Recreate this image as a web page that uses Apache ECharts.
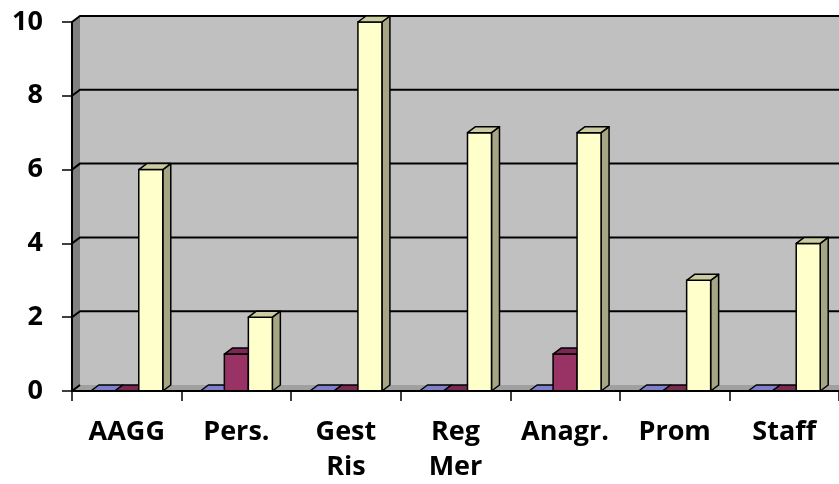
<!DOCTYPE html>
<html>
<head>
<meta charset="utf-8">
<script src="https://cdn.jsdelivr.net/npm/echarts@6/dist/echarts.min.js"></script>
<style>
html,body{margin:0;padding:0;background:#fff;}
#chart{width:839px;height:484px;}
</style>
</head>
<body>
<div id="chart"></div>
<script>
const categories = ['AAGG', 'Pers.', 'Gest\nRis', 'Reg\nMer', 'Anagr.', 'Prom', 'Staff'];
const seriesBlue = [0, 0, 0, 0, 0, 0, 0];
const seriesPurple = [0, 1, 0, 0, 1, 0, 0];
const seriesYellow = [6, 2, 10, 7, 7, 3, 4];
const yTicks = [0, 2, 4, 6, 8, 10];

const DX = 8, DY = -6;
const BAR_FRAC = 0.219;
const FONT = 'Open Sans';

function barRender(slot, front, topC, sideC) {
  return function (params, api) {
    const idx = api.value(0), v = api.value(1);
    const base = api.coord([idx, 0]);
    const top = api.coord([idx, v]);
    const cw = api.size([1, 0])[0];
    const bw = cw * BAR_FRAC;
    const x0 = base[0] - 1.5 * bw + slot * bw;
    const x1 = x0 + bw;
    const yb = base[1], yt = top[1];
    const st = { stroke: '#000', lineWidth: 1.5, lineJoin: 'round' };
    const children = [];
    if (v > 0) {
      children.push({ type: 'polygon', shape: { points: [[x1, yt], [x1 + DX, yt + DY], [x1 + DX, yb + DY], [x1, yb]] }, style: Object.assign({ fill: sideC }, st) });
      children.push({ type: 'rect', shape: { x: x0, y: yt, width: bw, height: yb - yt }, style: Object.assign({ fill: front }, st) });
    }
    children.push({ type: 'polygon', shape: { points: [[x0, yt], [x0 + DX, yt + DY], [x1 + DX, yt + DY], [x1, yt]] }, style: Object.assign({ fill: topC }, st) });
    return { type: 'group', children: children };
  };
}

function toData(arr) { return arr.map((v, i) => [i, v]); }

const chart = echarts.init(document.getElementById('chart'), null, { renderer: 'canvas' });
chart.setOption({
  animation: false,
  backgroundColor: '#ffffff',
  grid: { left: 72, right: 0, top: 22, bottom: 93, containLabel: false, outerBoundsMode: 'none' },
  xAxis: {
    type: 'category',
    data: categories,
    z: 10,
    axisLine: { show: true, lineStyle: { color: '#000', width: 2 } },
    axisTick: { show: true, length: 10, lineStyle: { color: '#000', width: 1.5 } },
    axisLabel: { color: '#000', fontFamily: FONT, fontWeight: 'bold', fontSize: 27, lineHeight: 35, margin: 24, interval: 0 },
    splitLine: { show: false }
  },
  yAxis: {
    type: 'value',
    min: 0, max: 10, interval: 2,
    z: 10,
    axisLine: { show: true, lineStyle: { color: '#000', width: 2 } },
    axisTick: { show: true, length: 10, lineStyle: { color: '#000', width: 1.5 } },
    axisLabel: { color: '#000', fontFamily: FONT, fontWeight: 'bold', fontSize: 27, margin: 29, padding: [4, 0, 0, 0] },
    splitLine: { show: false }
  },
  series: [
    {
      type: 'custom', z: 1, silent: true,
      data: [[0, 0]],
      renderItem: function (params, api) {
        const cs = params.coordSys;
        const l = cs.x, r = cs.x + cs.width + 20, t = cs.y, b = cs.y + cs.height;
        return { type: 'group', children: [
          { type: 'rect', shape: { x: l + DX, y: t + DY, width: r - l, height: b - t }, style: { fill: '#C0C0C0' } },
          { type: 'polygon', shape: { points: [[l, t], [l + DX, t + DY], [l + DX, b + DY], [l, b]] }, style: { fill: '#808080' } },
          { type: 'polygon', shape: { points: [[l, b], [l + DX, b + DY], [r + DX, b + DY], [r, b]] }, style: { fill: '#A0A0A0' } }
        ] };
      }
    },
    {
      type: 'custom', z: 1, silent: true,
      data: yTicks.map(v => [0, v]),
      renderItem: function (params, api) {
        const cs = params.coordSys;
        const l = cs.x, r = cs.x + cs.width + 20;
        const v = api.value(1);
        const y = api.coord([0, v])[1];
        const pts = v === 0 ? [[l, y], [l + DX, y + DY]] : [[l, y], [l + DX, y + DY], [r + DX, y + DY]];
        return { type: 'polyline', shape: { points: pts }, style: { stroke: '#000', lineWidth: 2, fill: null } };
      }
    },
    { name: 'S1', type: 'custom', z: 3, data: toData(seriesBlue), renderItem: barRender(0, '#9999FF', '#7F7FCC', '#6B6BB3') },
    { name: 'S2', type: 'custom', z: 3, data: toData(seriesPurple), renderItem: barRender(1, '#993366', '#7A2952', '#6B2447') },
    { name: 'S3', type: 'custom', z: 3, data: toData(seriesYellow), renderItem: barRender(2, '#FFFFCC', '#CCCCA3', '#A6A685') }
  ]
});
</script>
</body>
</html>
